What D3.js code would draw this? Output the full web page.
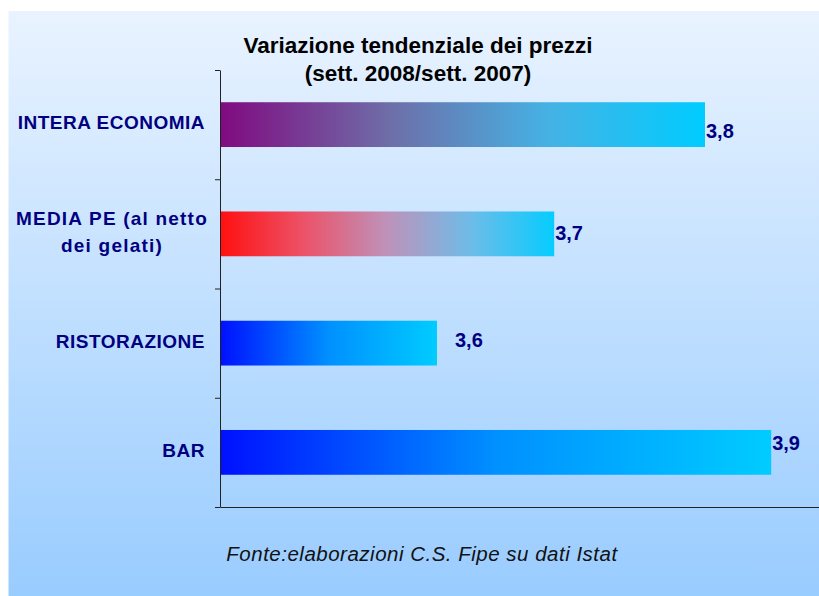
<!DOCTYPE html>
<html>
<head>
<meta charset="utf-8">
<script src="https://cdn.jsdelivr.net/npm/d3@7"></script>
<style>
  html, body { margin: 0; padding: 0; background: #fff; }
  svg { display: block; font-family: "Liberation Sans", Arial, sans-serif; }
</style>
</head>
<body>
<svg id="chart" width="819" height="596"></svg>
<script>
// dati
const categories = ["INTERA ECONOMIA", "MEDIA PE (al netto dei gelati)", "RISTORAZIONE", "BAR"];
const values = [3.847, 3.708, 3.6, 3.908];
const titleLines = ["Variazione tendenziale dei prezzi", "(sett. 2008/sett. 2007)"];
const sourceText = "Fonte:elaborazioni C.S. Fipe su dati Istat";

// stile
const W = 819, H = 596;
const plot = { left: 220, top: 70, bottom: 507 };
const navy = "#000080";
const barStops = [
  [[0, "#800a80"], [0.35, "#6e6ea8"], [0.68, "#45b2e4"], [1, "#00ccff"]],
  [[0, "#ff1010"], [0.25, "#ec5268"], [0.5, "#be92ba"], [0.75, "#6ebce8"], [1, "#06ccff"]],
  [[0, "#0010ff"], [0.5, "#0090ff"], [1, "#00ccff"]],
  [[0, "#0010ff"], [0.5, "#0090ff"], [1, "#00ccff"]]
];
// posizione manuale delle etichette (come nell'originale)
const labelNudge = [{ dx: 1, dy: 6 }, { dx: 1, dy: -1 }, { dx: 18, dy: -3 }, { dx: 1, dy: -9 }];

const svg = d3.select("#chart");
const defs = svg.append("defs");

// sfondo
const bg = defs.append("linearGradient").attr("id", "bg").attr("x1", 0).attr("y1", 0).attr("x2", 0).attr("y2", 1);
bg.append("stop").attr("offset", 0).attr("stop-color", "#e9f3ff");
bg.append("stop").attr("offset", 1).attr("stop-color", "#99ccff");
svg.append("rect").attr("x", 8.5).attr("y", 11).attr("width", W - 8.5).attr("height", H - 11).attr("fill", "url(#bg)");

barStops.forEach((stops, i) => {
  const g = defs.append("linearGradient").attr("id", "bar" + i);
  stops.forEach(s => g.append("stop").attr("offset", s[0]).attr("stop-color", s[1]));
});

// scale
const x = d3.scaleLinear().domain([3.4, 4.0]).range([plot.left, plot.left + 651]);
const y = d3.scaleBand().domain(categories).range([plot.top, plot.bottom]).paddingInner(0.59).paddingOuter(0.295);
const yTicks = d3.scaleLinear().domain([0, categories.length]).range([plot.top, plot.bottom]);

// titolo
svg.append("text")
  .attr("x", 418).attr("y", 53)
  .attr("text-anchor", "middle")
  .style("font-size", "22.5px").style("font-weight", "bold").attr("fill", "#000")
  .selectAll("tspan").data(titleLines).join("tspan")
  .attr("x", 418).attr("dy", (d, i) => i ? 28 : 0)
  .text(d => d);

// barre
svg.append("g").selectAll("rect")
  .data(categories)
  .join("rect")
  .attr("x", x.range()[0])
  .attr("y", d => y(d))
  .attr("width", (d, i) => x(values[i]) - x.range()[0])
  .attr("height", y.bandwidth())
  .attr("fill", (d, i) => `url(#bar${i})`);

// assi
svg.append("g")
  .attr("transform", `translate(${plot.left},0)`)
  .call(d3.axisLeft(yTicks).tickValues(d3.range(categories.length + 1)).tickSize(5).tickSizeOuter(0).tickFormat(""))
  .call(g => g.selectAll("path, line").attr("stroke", "#222"));

svg.append("g")
  .attr("transform", `translate(0,${plot.bottom})`)
  .call(d3.axisBottom(x).tickValues([]).tickSizeOuter(0))
  .call(g => g.select("path").attr("stroke", "#222"));

// etichette categorie
const fmt = v => d3.format(".1f")(v).replace(".", ",");
const catG = svg.append("g")
  .style("font-size", "19px").style("font-weight", "bold").style("letter-spacing", "0.5px")
  .attr("fill", navy);

categories.forEach(c => {
  const words = c.split(" ");
  const probe = catG.append("text");
  const lines = [];
  let cur = "";
  words.forEach(w => {
    const test = cur ? cur + " " + w : w;
    probe.text(test);
    if (probe.node().getComputedTextLength() > 195 && cur) { lines.push(cur); cur = w; }
    else cur = test;
  });
  lines.push(cur);
  const multi = lines.length > 1;
  const widths = lines.map(l => { probe.text(l); return probe.node().getComputedTextLength(); });
  probe.remove();
  const blockW = d3.max(widths);
  const right = 205;
  const lh = 27;
  const cy = y(c) + y.bandwidth() / 2 - 2;
  const t = catG.append("text")
    .attr("text-anchor", multi ? "middle" : "end")
    .style("letter-spacing", multi ? "1.2px" : null);
  const tx = multi ? right - 93 : right;
  lines.forEach((l, i) => {
    t.append("tspan")
      .attr("x", tx)
      .attr("y", cy + (i - (lines.length - 1) / 2) * lh)
      .attr("dy", "0.35em")
      .text(l);
  });
});

// etichette valori
svg.append("g").selectAll("text")
  .data(values)
  .join("text")
  .attr("x", (d, i) => x(d) + labelNudge[i].dx)
  .attr("y", (d, i) => y(categories[i]) + y.bandwidth() / 2 + labelNudge[i].dy)
  .attr("dy", "0.35em")
  .style("font-size", "20px").style("font-weight", "bold")
  .attr("fill", navy)
  .text(d => fmt(d));

// fonte
svg.append("text")
  .attr("x", 422).attr("y", 561)
  .attr("text-anchor", "middle")
  .style("font-size", "20.5px").style("font-style", "italic").style("letter-spacing", "0.5px")
  .attr("fill", "#111")
  .text(sourceText);
</script>
</body>
</html>
